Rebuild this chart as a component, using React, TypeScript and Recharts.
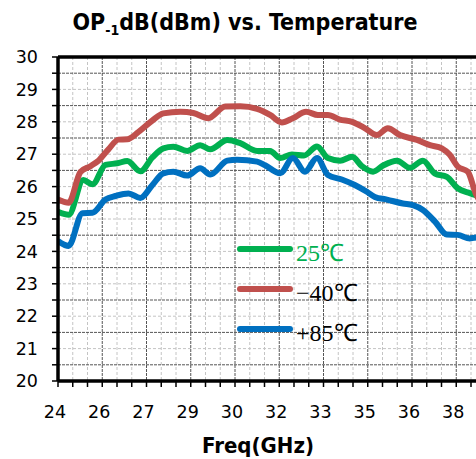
import { CartesianGrid, Legend, Line, LineChart, ReferenceLine, XAxis, YAxis } from "recharts";

// frequency (GHz) / OP-1dB (dBm) per temperature
const freq25 = [24.0, 24.36, 24.86, 25.17, 25.61, 26.01, 26.35, 26.79, 27.2, 27.57, 27.91, 28.38, 28.82, 29.16, 29.74, 30.18, 30.75, 31.19, 31.53, 31.93, 32.34, 32.78, 33.15, 33.56, 33.97, 34.3, 34.68, 35.02, 35.49, 35.93, 36.37, 36.78, 37.18, 37.55, 37.96, 38.16, 38.5];
const op25 = [25.22, 25.13, 26.2, 26.07, 26.67, 26.72, 26.79, 26.47, 26.9, 27.18, 27.23, 27.1, 27.28, 27.15, 27.44, 27.34, 27.1, 27.1, 26.88, 26.99, 26.96, 27.24, 26.88, 26.8, 26.92, 26.63, 26.46, 26.65, 26.8, 26.58, 26.8, 26.4, 26.3, 25.95, 25.8, 25.74, 25.65];

const freqM40 = [24.0, 24.36, 24.76, 25.1, 25.37, 25.71, 26.05, 26.35, 26.72, 27.2, 27.57, 28.15, 28.59, 29.09, 29.67, 30.18, 30.75, 31.19, 31.59, 31.96, 32.41, 32.81, 33.15, 33.55, 33.97, 34.41, 34.81, 35.18, 35.59, 36.17, 36.61, 37.01, 37.28, 37.55, 37.89, 38.16, 38.5];
const opM40 = [25.6, 25.5, 26.45, 26.63, 26.8, 27.15, 27.45, 27.46, 27.68, 28.04, 28.26, 28.31, 28.27, 28.11, 28.47, 28.48, 28.4, 28.21, 27.98, 28.11, 28.31, 28.21, 28.21, 28.07, 28.0, 27.8, 27.59, 27.8, 27.59, 27.44, 27.28, 27.18, 26.98, 26.62, 26.46, 25.79, 25.3];

const freq85 = [24.0, 24.36, 24.83, 25.17, 25.61, 25.95, 26.39, 26.79, 27.2, 27.57, 27.91, 28.38, 28.82, 29.16, 29.74, 30.07, 30.75, 31.02, 31.53, 31.96, 32.37, 32.78, 33.15, 33.62, 34.06, 34.47, 34.74, 35.15, 35.69, 36.03, 36.37, 36.78, 37.18, 37.55, 37.96, 38.16, 38.5];
const op85 = [24.32, 24.17, 25.18, 25.19, 25.6, 25.71, 25.79, 25.65, 26.05, 26.41, 26.46, 26.34, 26.57, 26.37, 26.8, 26.83, 26.77, 26.66, 26.41, 26.88, 26.46, 26.88, 26.36, 26.22, 26.05, 25.84, 25.68, 25.6, 25.48, 25.43, 25.28, 24.92, 24.52, 24.51, 24.4, 24.43, 24.45];

const seriesNames = ["25℃", "−40℃", "+85℃"];
const seriesColors = ["#00B050", "#C0504D", "#0070C0"];

const xTicks = Array.from({ length: 33 }, (_, i) => 24 + i * 0.5);
const yTicks = Array.from({ length: 21 }, (_, i) => 20 + i * 0.5);
const xMajor = xTicks.filter((v) => (v - 24) % 1.5 === 0);
const xMinor = xTicks.filter((v) => (v - 24) % 1.5 !== 0);
const yMajor = yTicks.filter((v) => v % 1 === 0.5);
const yMinor = yTicks.filter((v) => v % 1 === 0);

const toRows = (f: number[], v: number[]) => f.map((x, i) => ({ f: x, v: v[i] }));
const rows = [toRows(freq25, op25), toRows(freqM40, opM40), toRows(freq85, op85)];

const tickFont = { fill: "#000", fontSize: 17.5, fontFamily: "DejaVu Sans" };

function LegendBox() {
  return (
    <div>
      {seriesNames.map((name, i) => (
        <div key={name} style={{ display: "flex", alignItems: "center", height: 40 }}>
          <div style={{ width: 56, height: 6, borderRadius: 3, background: seriesColors[i] }} />
          <span
            style={{
              marginLeft: 3,
              position: "relative",
              top: 4,
              fontFamily: "Liberation Serif",
              fontSize: 24,
              lineHeight: 1,
              color: i === 0 ? seriesColors[0] : "#000",
            }}
          >
            {name}
          </span>
        </div>
      ))}
    </div>
  );
}

export default function App() {
  return (
    <div style={{ position: "absolute", left: 0, top: 0, width: 476, height: 459, overflow: "hidden", background: "#fff" }}>
      <LineChart width={532} height={459} margin={{ top: 57, right: 2, bottom: 38, left: 0 }}>
        <CartesianGrid stroke="#c4c4c4" strokeDasharray="3 2" horizontalValues={yMinor} verticalValues={xMinor} />
        <CartesianGrid stroke="#555" strokeDasharray="3 1" horizontalValues={yMajor} verticalValues={xMajor} />
        <XAxis
          type="number"
          dataKey="f"
          domain={[24, 40]}
          ticks={xTicks}
          interval={0}
          allowDataOverflow
          height={40}
          tickSize={6}
          tickMargin={19}
          tick={{ ...tickFont, dx: -3 }}
          tickLine={{ stroke: "#000", strokeWidth: 1.5 }}
          axisLine={{ stroke: "#000", strokeWidth: 3.5 }}
          tickFormatter={(v: number) => ((v - 24) % 1.5 === 0 && v < 38.5 ? String(Math.round(v)) : "")}
        />
        <YAxis
          type="number"
          domain={[20, 30]}
          ticks={yTicks}
          interval={0}
          width={58}
          tickSize={6}
          tickMargin={14}
          tick={tickFont}
          tickLine={{ stroke: "#000", strokeWidth: 1.5 }}
          axisLine={{ stroke: "#000", strokeWidth: 3.5 }}
          tickFormatter={(v: number) => (v % 1 === 0 ? String(v) : "")}
        />
        <ReferenceLine y={30} stroke="#000" strokeWidth={3.5} />
        {rows.map((data, i) => (
          <Line
            key={seriesNames[i]}
            data={data}
            dataKey="v"
            name={seriesNames[i]}
            type="monotone"
            stroke={seriesColors[i]}
            strokeWidth={6}
            strokeLinejoin="round"
            dot={false}
            activeDot={false}
            isAnimationActive={false}
          />
        ))}
        <Legend
          layout="vertical"
          align="center"
          verticalAlign="middle"
          wrapperStyle={{ left: 237, top: 229, width: 160 }}
          content={() => <LegendBox />}
        />
      </LineChart>
      <svg width={476} height={459} style={{ position: "absolute", left: 0, top: 0, pointerEvents: "none" }}>
        <text x={245} y={30} textAnchor="middle" fontFamily="DejaVu Sans Condensed" fontWeight="bold" fontSize={23} fill="#000">
          OP
          <tspan fontSize={14} dy={5}>-1</tspan>
          <tspan dy={-5}>dB(dBm) vs. Temperature</tspan>
        </text>
        <text x={258} y={453} textAnchor="middle" fontFamily="DejaVu Sans Condensed" fontWeight="bold" fontSize={22} fill="#000">
          Freq(GHz)
        </text>
      </svg>
    </div>
  );
}
